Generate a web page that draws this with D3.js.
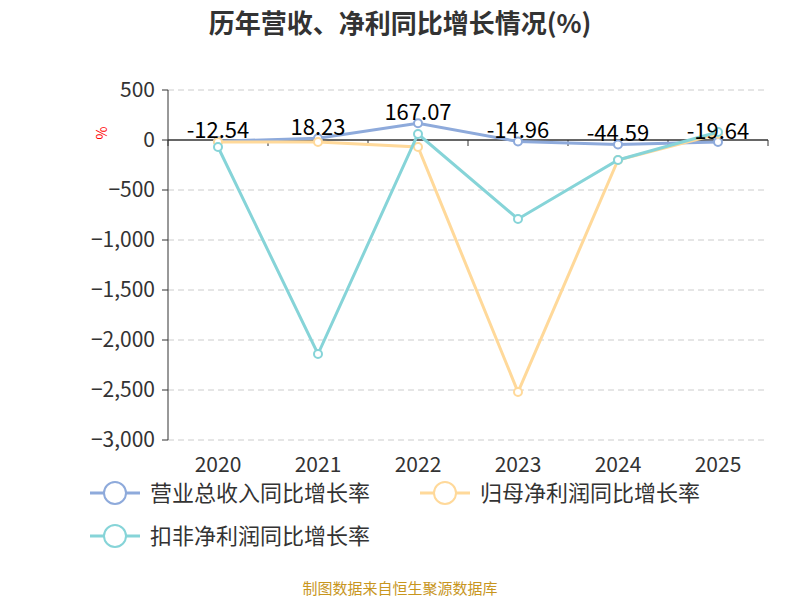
<!DOCTYPE html>
<html><head><meta charset="utf-8">
<script src="https://cdn.jsdelivr.net/npm/d3@7"></script>
<style>body{margin:0;background:#fff}</style>
</head><body><div id="chart"></div>
<script>
const years = ["2020","2021","2022","2023","2024","2025"];
const revenue = [-12.54, 18.23, 167.07, -14.96, -44.59, -19.64];
const netProfit = [-20, -20, -70, -2520, -200, 60];
const deducted = [-70, -2140, 60, -790, -200, 80];
const yTicks = [500, 0, -500, -1000, -1500, -2000, -2500, -3000];

const W = 800, H = 600;
const svg = d3.select("#chart").append("svg").attr("width", W).attr("height", H)
    .style("font-family", "'Microsoft YaHei','Noto Sans CJK SC',sans-serif");

const x = d3.scaleBand().domain(years).range([168, 768]);
const y = d3.scaleLinear().domain([-3000, 500]).range([440, 90]);

svg.append("text").attr("x", 400).attr("y", 33).attr("text-anchor", "middle")
    .attr("font-size", 26).attr("font-weight", "bold").attr("fill", "#333")
    .text("历年营收、净利同比增长情况(%)");

// grid
svg.selectAll(".grid").data(yTicks.filter(d => d !== 0)).join("line")
    .attr("x1", 168).attr("x2", 768).attr("y1", d => y(d)).attr("y2", d => y(d))
    .attr("stroke", "#ccc").attr("stroke-dasharray", "6,4");

// y axis
svg.append("line").attr("x1", 168).attr("x2", 168).attr("y1", 90).attr("y2", 440).attr("stroke", "#333");
svg.selectAll(".yt").data(yTicks).join("line")
    .attr("x1", 162).attr("x2", 168).attr("y1", d => y(d)).attr("y2", d => y(d)).attr("stroke", "#333");
svg.selectAll(".yl").data(yTicks).join("text")
    .attr("x", 155).attr("y", d => y(d)).attr("dy", "0.35em").attr("text-anchor", "end")
    .attr("font-size", 21).attr("fill", "#333").text(d => d3.format(",")(d));
svg.append("text").attr("x", 107).attr("y", 133).attr("fill", "red").attr("font-size", 14)
    .attr("text-anchor", "middle").attr("transform", "rotate(-90,107,133)").text("%");

// x axis at 0
svg.append("line").attr("x1", 168).attr("x2", 768).attr("y1", y(0)).attr("y2", y(0)).attr("stroke", "#333").attr("stroke-width", 1.5);
svg.selectAll(".xt").data(d3.range(years.length + 1)).join("line")
    .attr("x1", i => 168 + i * x.bandwidth()).attr("x2", i => 168 + i * x.bandwidth())
    .attr("y1", y(0)).attr("y2", y(0) + 6).attr("stroke", "#333");
svg.selectAll(".xl").data(years).join("text")
    .attr("x", d => x(d) + x.bandwidth() / 2).attr("y", 472).attr("text-anchor", "middle")
    .attr("font-size", 21).attr("fill", "#333").text(d => d);

const series = [
    {name: "营业总收入同比增长率", data: revenue, color: "#8eaadb"},
    {name: "归母净利润同比增长率", data: netProfit, color: "#ffd99a"},
    {name: "扣非净利润同比增长率", data: deducted, color: "#86d4d8"}
];
const line = d3.line().x((d, i) => x(years[i]) + x.bandwidth() / 2).y(d => y(d));
series.forEach(s => {
    svg.append("path").datum(s.data).attr("d", line).attr("fill", "none")
        .attr("stroke", s.color).attr("stroke-width", 3);
    svg.selectAll(null).data(s.data).join("circle")
        .attr("cx", (d, i) => x(years[i]) + x.bandwidth() / 2).attr("cy", d => y(d))
        .attr("r", 4).attr("fill", "#fff").attr("stroke", s.color).attr("stroke-width", 2);
});
svg.selectAll(".lab").data(revenue).join("text")
    .attr("x", (d, i) => x(years[i]) + x.bandwidth() / 2).attr("y", d => y(d) - 3)
    .attr("text-anchor", "middle").attr("font-size", 22).attr("fill", "#000")
    .text(d => d.toFixed(2));

// legend
const legPos = [[90, 493], [420, 493], [90, 536]];
series.forEach((s, i) => {
    const [lx, ly] = legPos[i];
    const g = svg.append("g").attr("transform", `translate(${lx},${ly})`);
    g.append("line").attr("x1", 0).attr("x2", 50).attr("stroke", s.color).attr("stroke-width", 3);
    g.append("circle").attr("cx", 25).attr("r", 11).attr("fill", "#fff").attr("stroke", s.color).attr("stroke-width", 2);
    g.append("text").attr("x", 60).attr("dy", "0.35em").attr("font-size", 22).attr("fill", "#333").text(s.name);
});

svg.append("text").attr("x", 400).attr("y", 594).attr("text-anchor", "middle")
    .attr("font-size", 15).attr("fill", "#c8961e").text("制图数据来自恒生聚源数据库");
</script></body></html>
